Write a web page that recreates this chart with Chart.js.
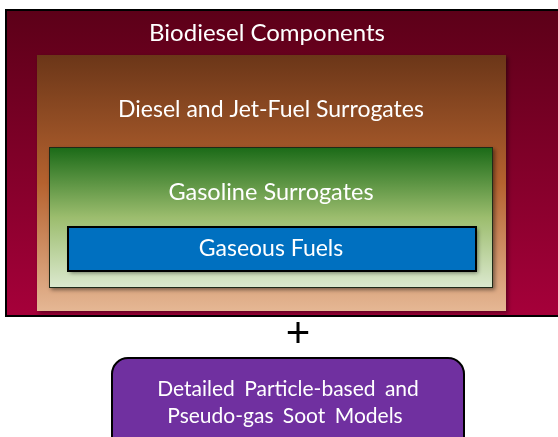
<!DOCTYPE html>
<html><head><meta charset="utf-8">
<script src="https://cdn.jsdelivr.net/npm/chart.js@4"></script>
<style>html,body{margin:0;padding:0;background:#fff;}#wrap{width:558px;height:437px;}</style>
</head><body><div id="wrap"><canvas id="c" width="558" height="437"></canvas></div>
<script>
// Content (data)
const boxLabels = ["Biodiesel Components", "Diesel and Jet-Fuel Surrogates", "Gasoline Surrogates", "Gaseous Fuels"];
const nestLevel = [0, 1, 2, 3];
const joinSymbol = "+";
const modelLines = ["Detailed Particle-based and", "Pseudo-gas Soot Models"];

// Layout (diagram units on the chart's linear scales)
const boxX0 = [6, 37, 49, 68];
const boxX1 = [570, 506, 493, 476];
const boxY0 = [10, 55, 147, 227];
const boxY1 = [316, 311, 288, 271];
const labelX = [267, 271, 271, 271];
const labelY = [33, 110, 192, 249];
const labelSize = [24, 23, 23.5, 23];
const boxTop = [["#5c0018", "#a6003a"], ["#6b3618", "#b5622f", "#e5b794"], ["#1a6a17", "#9cbd6e", "#dce9cf"], ["#0070c0", "#0070c0"]];
const plusPos = [298, 335];
const modelBox = [112, 464, 358, 452];
const modelLineX = [288, 285];
const modelLineY = [389, 416];

const diagramPlugin = {
  id: 'diagram',
  afterDatasetsDraw(chart) {
    const ctx = chart.ctx, xs = chart.scales.x, ys = chart.scales.y;
    const px = v => xs.getPixelForValue(v), py = v => ys.getPixelForValue(v);
    ctx.save();
    nestLevel.forEach((lvl, i) => {
      const x0 = px(boxX0[i]), x1 = px(boxX1[i]), y0 = py(boxY0[i]), y1 = py(boxY1[i]);
      const g = ctx.createLinearGradient(0, y0, 0, y1);
      const stops = boxTop[i];
      stops.forEach((c, k) => g.addColorStop(k / (stops.length - 1), c));
      ctx.save();
      if (lvl > 0) {
        ctx.shadowColor = 'rgba(0,0,0,0.45)';
        ctx.shadowBlur = 4; ctx.shadowOffsetX = 1.5; ctx.shadowOffsetY = 2;
      }
      ctx.fillStyle = g;
      ctx.fillRect(x0, y0, x1 - x0, y1 - y0);
      ctx.restore();
      if (lvl === 0 || lvl === 3) {
        ctx.strokeStyle = '#000'; ctx.lineWidth = 2;
        ctx.strokeRect(x0, y0, x1 - x0, y1 - y0);
      } else if (lvl === 2) {
        ctx.strokeStyle = '#1f2a18'; ctx.lineWidth = 1;
        ctx.strokeRect(x0 + 0.5, y0 + 0.5, x1 - x0 - 1, y1 - y0 - 1);
      }
      ctx.fillStyle = '#fff';
      ctx.textAlign = 'center'; ctx.textBaseline = 'middle';
      ctx.font = labelSize[i] + 'px Lato, "Open Sans", sans-serif';
      ctx.fillText(boxLabels[i], px(labelX[i]), py(labelY[i]));
    });
    // plus sign
    ctx.fillStyle = '#000';
    ctx.font = '42px "Liberation Sans", Arial, sans-serif';
    ctx.textAlign = 'center'; ctx.textBaseline = 'middle';
    ctx.fillText(joinSymbol, px(plusPos[0]), py(plusPos[1]));
    // model box
    const mx0 = px(modelBox[0]), mx1 = px(modelBox[1]), my0 = py(modelBox[2]), my1 = py(modelBox[3]);
    ctx.beginPath();
    ctx.roundRect(mx0, my0, mx1 - mx0, my1 - my0, 16);
    ctx.fillStyle = '#7030a0'; ctx.fill();
    ctx.strokeStyle = '#000'; ctx.lineWidth = 2; ctx.stroke();
    ctx.fillStyle = '#fff';
    ctx.font = '21px Lato, "Open Sans", sans-serif';
    ctx.wordSpacing = '4px';
    modelLines.forEach((t, k) => ctx.fillText(t, px(modelLineX[k]), py(modelLineY[k])));
    ctx.restore();
  }
};

new Chart(document.getElementById('c'), {
  type: 'scatter',
  data: { datasets: [{ data: labelY.map((v, i) => ({x: labelX[i], y: v})), pointRadius: 0 }] },
  options: {
    responsive: false, animation: false,
    layout: { padding: 0 },
    plugins: { legend: { display: false }, tooltip: { enabled: false } },
    scales: {
      x: { type: 'linear', min: 0, max: 558, display: false },
      y: { type: 'linear', min: 0, max: 437, reverse: true, display: false }
    }
  },
  plugins: [diagramPlugin]
});
</script></body></html>
